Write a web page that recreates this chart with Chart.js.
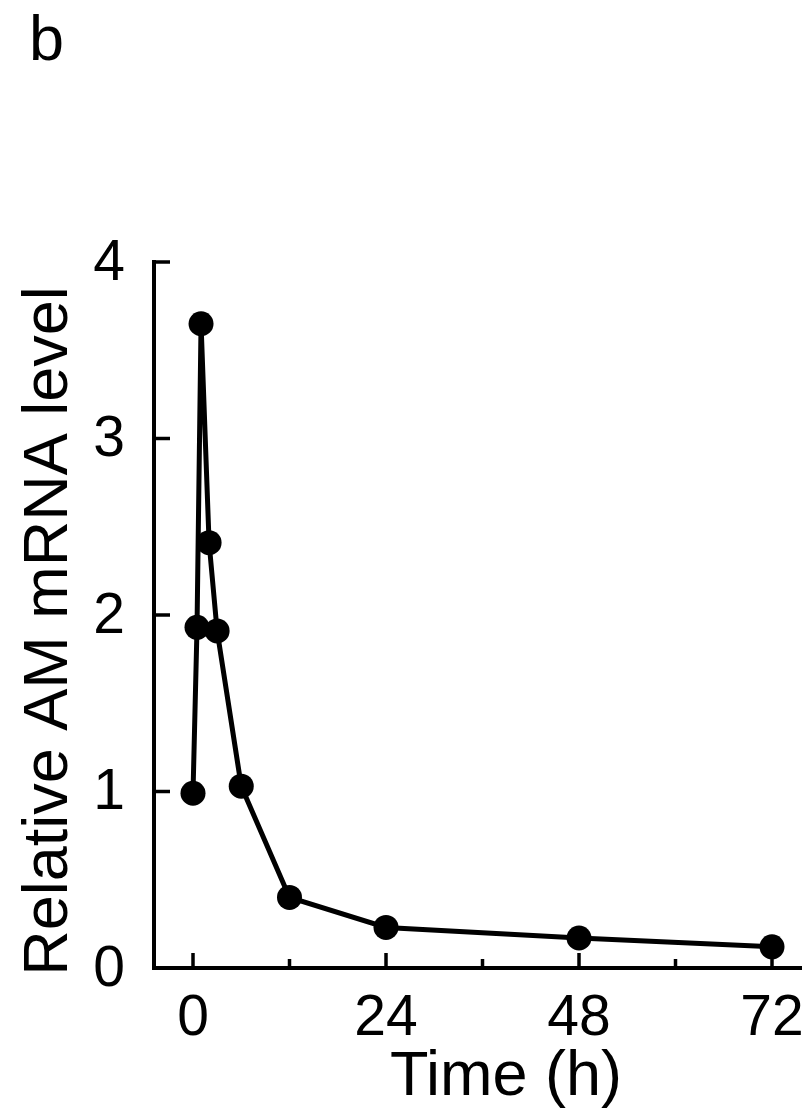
<!DOCTYPE html>
<html>
<head>
<meta charset="utf-8">
<script src="https://cdn.jsdelivr.net/npm/chart.js@4"></script>
<style>
  html, body { margin: 0; padding: 0; background: #fff; overflow: hidden; }
  #wrap { width: 802px; height: 1111px; }
</style>
</head>
<body>
<div id="wrap"><canvas id="chart" width="802" height="1111"></canvas></div>
<script>
// Data
const timeHours = [0, 0.5, 1, 2, 3, 6, 12, 24, 48, 72];
const amLevel = [0.99, 1.93, 3.65, 2.41, 1.91, 1.03, 0.40, 0.23, 0.17, 0.12];

// Axis ticks
const yTicks = [0, 1, 2, 3, 4];
const xMajorTicks = [0, 24, 48, 72];
const xMinorTicks = [12, 36, 60];

const panelLabel = 'b';
const xTitle = 'Time (h)';
const yTitle = 'Relative AM mRNA level';

const FONT = '"Liberation Sans", Arial, Helvetica, sans-serif';

// Draw axes by hand (ticks point inward like the figure)
const axesPlugin = {
  id: 'axes',
  beforeDatasetsDraw(chart) {
    const ctx = chart.ctx;
    const xs = chart.scales.x;
    const ys = chart.scales.y;
    const area = chart.chartArea;
    const x0 = area.left;
    const yBottom = ys.getPixelForValue(0);
    const yTop = ys.getPixelForValue(4);

    ctx.save();
    ctx.strokeStyle = '#000';
    ctx.lineWidth = 4;
    ctx.lineCap = 'butt';

    // y axis line
    ctx.beginPath();
    ctx.moveTo(x0, yTop - 2);
    ctx.lineTo(x0, yBottom + 2);
    ctx.stroke();

    // x axis line
    ctx.beginPath();
    ctx.moveTo(x0 - 2, yBottom);
    ctx.lineTo(area.right, yBottom);
    ctx.stroke();

    // y ticks
    ctx.lineWidth = 3.5;
    yTicks.forEach(v => {
      const py = ys.getPixelForValue(v);
      ctx.beginPath();
      ctx.moveTo(x0, py);
      ctx.lineTo(x0 + 16, py);
      ctx.stroke();
    });

    // x ticks
    xMajorTicks.forEach(v => {
      const px = xs.getPixelForValue(v);
      ctx.beginPath();
      ctx.moveTo(px, yBottom);
      ctx.lineTo(px, yBottom - 15);
      ctx.stroke();
    });
    xMinorTicks.forEach(v => {
      const px = xs.getPixelForValue(v);
      ctx.beginPath();
      ctx.moveTo(px, yBottom);
      ctx.lineTo(px, yBottom - 9);
      ctx.stroke();
    });

    // tick labels
    ctx.fillStyle = '#000';
    ctx.font = '57px ' + FONT;
    ctx.textAlign = 'right';
    ctx.textBaseline = 'middle';
    yTicks.forEach(v => {
      ctx.fillText(String(v), x0 - 29, ys.getPixelForValue(v) + 2);
    });
    ctx.textAlign = 'center';
    ctx.textBaseline = 'alphabetic';
    xMajorTicks.forEach(v => {
      ctx.fillText(String(v), xs.getPixelForValue(v), 1035);
    });

    // axis titles
    ctx.font = '63px ' + FONT;
    ctx.fillText(xTitle, 506, 1095);

    ctx.save();
    ctx.translate(67, 631);
    ctx.rotate(-Math.PI / 2);
    ctx.textAlign = 'center';
    ctx.fillText(yTitle, 0, 0);
    ctx.restore();

    // panel label
    ctx.textAlign = 'left';
    ctx.font = '63px ' + FONT;
    ctx.fillText(panelLabel, 29, 60);

    ctx.restore();
  }
};

const ctx = document.getElementById('chart').getContext('2d');
const chart = new Chart(ctx, {
  type: 'scatter',
  data: {
    datasets: [{
      label: 'AM mRNA',
      data: timeHours.map((t, i) => ({ x: t, y: amLevel[i] })),
      showLine: true,
      borderColor: '#000',
      borderWidth: 5,
      backgroundColor: '#000',
      pointBackgroundColor: '#000',
      pointBorderColor: '#000',
      pointRadius: 12.5,
      pointBorderWidth: 0,
      tension: 0,
      clip: false
    }]
  },
  options: {
    responsive: false,
    animation: false,
    layout: { autoPadding: false, padding: { left: 154, right: 0, top: 262, bottom: 143 } },
    plugins: {
      legend: { display: false },
      tooltip: { enabled: false }
    },
    scales: {
      x: { type: 'linear', min: -4.85, max: 75.73, display: false },
      y: { type: 'linear', min: 0, max: 4, display: false }
    }
  },
  plugins: [axesPlugin]
});
</script>
</body>
</html>
